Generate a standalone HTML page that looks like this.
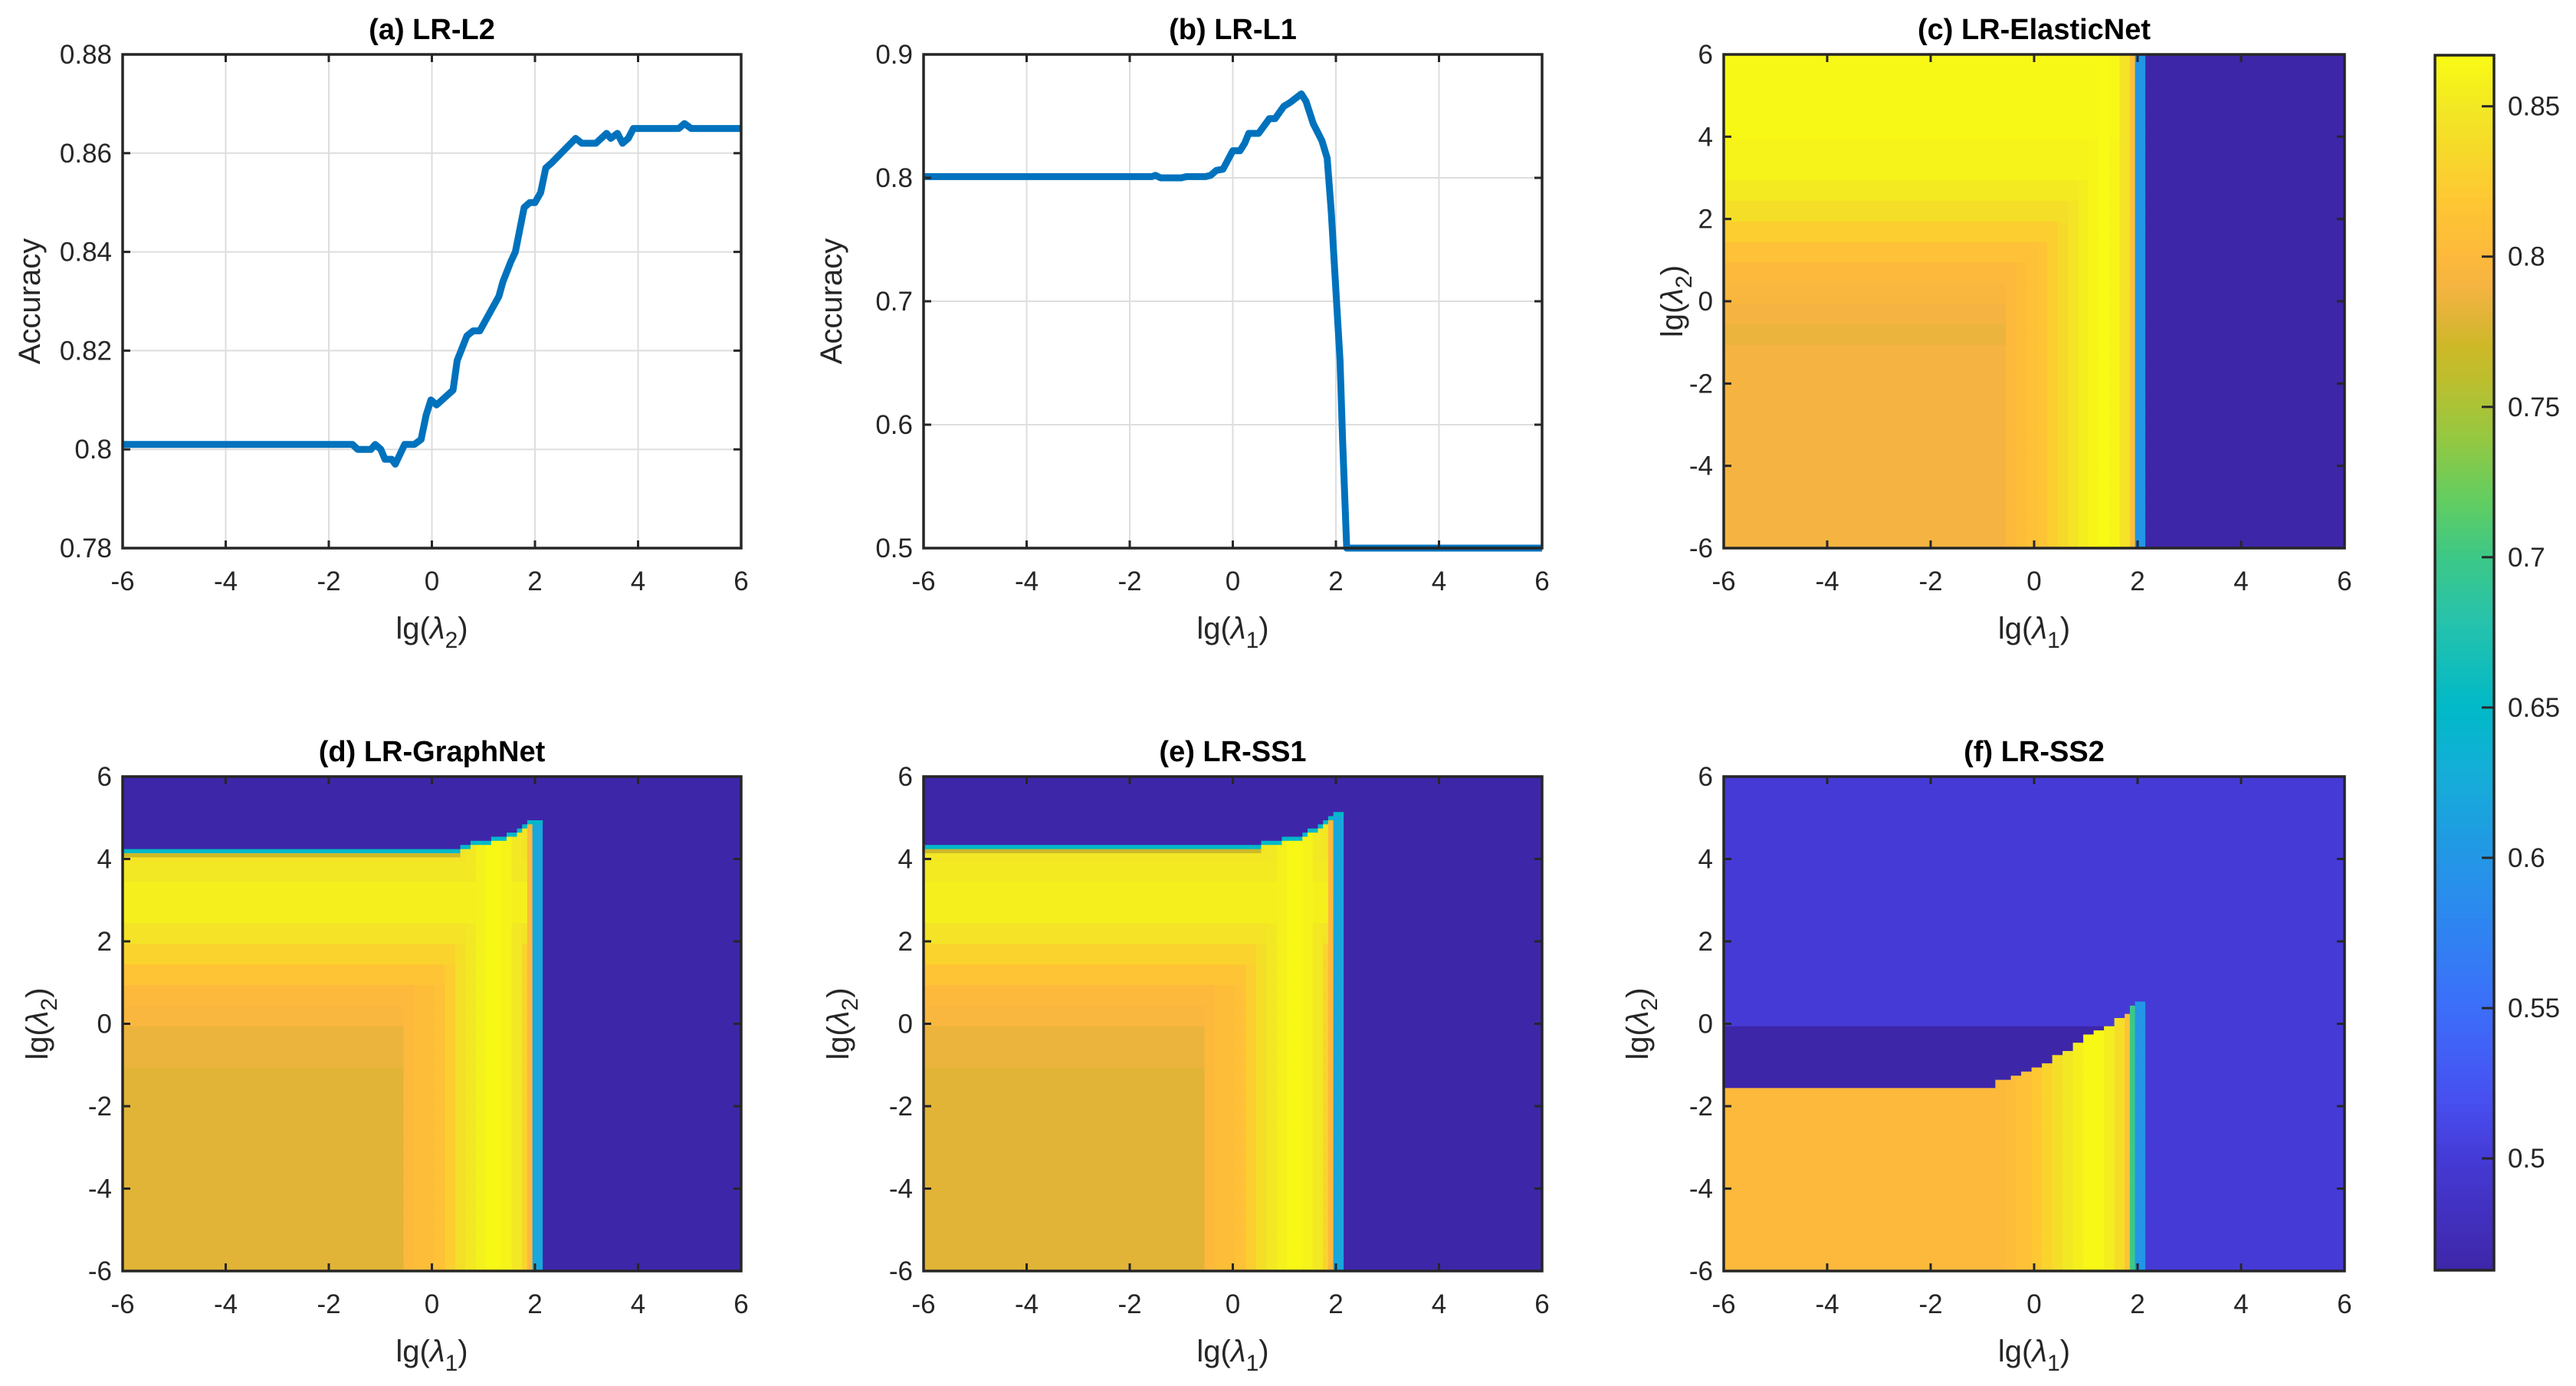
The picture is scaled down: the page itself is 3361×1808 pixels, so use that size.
<!DOCTYPE html>
<html><head><meta charset="utf-8"><style>
html,body{margin:0;padding:0;background:#fff;}
svg{display:block;font-family:"Liberation Sans",Arial,sans-serif;}
.tk{font-size:35px;fill:#262626;}
.tt{font-size:38px;font-weight:bold;fill:#000;}
.al{font-size:40px;fill:#262626;}
</style></head><body>
<svg id="fig" width="3361" height="1808" viewBox="0 0 3361 1808" xmlns="http://www.w3.org/2000/svg">
<rect width="3361" height="1808" fill="#fff"/>
</svg>
<script>
// ===== (a) LR-L2 line data =====
const aX=[-6,-1.54,-1.44,-1.18,-1.1,-0.99,-0.91,-0.78,-0.71,-0.53,-0.34,-0.21,-0.11,-0.02,0.09,0.41,0.49,0.68,0.8,0.93,1.3,1.38,1.53,1.62,1.79,1.9,2.0,2.11,2.21,2.32,2.79,2.91,3.18,3.39,3.47,3.6,3.7,3.81,3.91,4.79,4.9,5.03,6];
const aY=[0.801,0.801,0.800,0.800,0.801,0.800,0.798,0.798,0.797,0.801,0.801,0.802,0.807,0.810,0.809,0.812,0.818,0.823,0.824,0.824,0.831,0.834,0.838,0.840,0.849,0.850,0.850,0.852,0.857,0.858,0.863,0.862,0.862,0.864,0.863,0.864,0.862,0.863,0.865,0.865,0.866,0.865,0.865];
const aYTicks=[0.78,0.8,0.82,0.84,0.86,0.88];
const aYLabels=["0.78","0.8","0.82","0.84","0.86","0.88"];
// ===== (b) LR-L1 line data =====
const bX=[-6,-1.57,-1.5,-1.4,-1.0,-0.9,-0.53,-0.43,-0.32,-0.19,0.0,0.14,0.23,0.31,0.5,0.71,0.82,0.99,1.11,1.33,1.42,1.56,1.73,1.83,1.91,1.99,2.08,2.13,2.21,6];
const bY=[0.801,0.801,0.802,0.800,0.800,0.801,0.801,0.802,0.806,0.807,0.822,0.822,0.828,0.836,0.836,0.848,0.848,0.858,0.861,0.868,0.862,0.844,0.830,0.816,0.773,0.716,0.652,0.588,0.5,0.5];
const bYTicks=[0.5,0.6,0.7,0.8,0.9];
const bYLabels=["0.5","0.6","0.7","0.8","0.9"];
const lamTicks=[-6,-4,-2,0,2,4,6];
const lamLabels=["-6","-4","-2","0","2","4","6"];
// ===== colormap (value -> colour) =====
const cmapVals=[0.4628,0.50,0.52,0.55,0.58,0.60,0.63,0.65,0.68,0.70,0.72,0.74,0.76,0.77,0.78,0.79,0.80,0.82,0.84,0.85,0.867];
const cmapCols=[[62,38,168],[69,58,214],[71,80,240],[60,110,250],[45,135,240],[35,150,230],[20,175,215],[0,185,200],[40,195,170],[60,200,135],[100,205,95],[150,200,65],[190,190,45],[205,185,40],[225,180,55],[245,180,65],[253,185,60],[254,200,50],[245,222,40],[242,232,35],[249,251,20]];
const cbTicks=[0.5,0.55,0.6,0.65,0.7,0.75,0.8,0.85];
const cbLabels=["0.5","0.55","0.6","0.65","0.7","0.75","0.8","0.85"];
// ===== (c) ElasticNet =====
const cColEdges=[-6,-0.5,-0.3,-0.1,0.1,0.3,0.5,0.7,0.9,1.1,1.3,1.5,1.7,1.85,1.95,2.0,2.12,6];
const cColVals=[0,0.80,0.805,0.81,0.815,0.825,0.835,0.845,0.855,0.862,0.866,0.862,0.845,0.81,0.70,0.60,0.4628];
const cRowEdges=[-6,-1,-0.5,0,0.5,1,1.5,2,2.5,3,4,6.1];
const cRowVals=[0.79,0.785,0.79,0.795,0.80,0.81,0.825,0.84,0.852,0.86,0.864];
const cCut=1.7;
// ===== (d) GraphNet =====
const dColEdges=[-6,-0.5,-0.3,0.1,0.3,0.5,0.7,0.9,1.1,1.4,1.6,1.75,1.85,1.95,2.0,2.12,6];
const dColVals=[0,0.80,0.805,0.81,0.825,0.84,0.85,0.858,0.864,0.86,0.85,0.83,0.80,0.70,0.62,0.4628];
const dRowEdges=[-6,-1,0,0.5,1,1.5,2,2.5,3.5,4,6.1];
const dRowVals=[0.78,0.785,0.795,0.80,0.815,0.83,0.845,0.857,0.85,0.845];
const dCut=1.85;
const dTopEdges=[-6,0.6,0.8,1.0,1.2,1.4,1.5,1.6,1.7,1.8,1.9,2.0,2.12];
const dTopY=[4.2,4.3,4.35,4.4,4.45,4.5,4.55,4.6,4.7,4.8,4.85,4.9];
// ===== (e) SS1 =====
const eColEdges=[-6,-0.5,-0.3,0.1,0.3,0.5,0.7,0.9,1.1,1.4,1.6,1.75,1.85,1.95,2.0,2.12,6];
const eColVals=[0,0.80,0.805,0.81,0.825,0.84,0.85,0.858,0.864,0.86,0.85,0.83,0.80,0.70,0.62,0.4628];
const eRowEdges=[-6,-1,0,0.5,1,1.5,2,2.5,3.5,4,6.1];
const eRowVals=[0.78,0.785,0.795,0.80,0.815,0.83,0.845,0.857,0.852,0.848];
const eCut=1.85;
const eTopEdges=[-6,0.6,0.8,1.0,1.2,1.4,1.5,1.6,1.7,1.8,1.9,2.0,2.12];
const eTopY=[4.3,4.35,4.4,4.45,4.5,4.6,4.65,4.7,4.8,4.9,5.0,5.05];
// ===== (f) SS2 =====
const fColEdges=[-6,-0.5,-0.3,0,0.2,0.4,0.6,0.8,1.0,1.4,1.6,1.75,1.9,2.0,2.12,6];
const fColVals=[0.80,0.805,0.81,0.82,0.83,0.84,0.85,0.857,0.864,0.855,0.84,0.815,0.70,0.60,0.50];
const fBndEdges=[-6,-0.7,-0.4,-0.2,0,0.2,0.4,0.6,0.8,1.0,1.2,1.4,1.6,1.8,1.9,2.0,2.12];
const fBndY=[-1.5,-1.35,-1.25,-1.1,-1.0,-0.9,-0.75,-0.6,-0.4,-0.25,-0.1,0.0,0.15,0.3,0.5,0.6];
const fLow=0.4628, fHigh=0.50, fRight=2.12;

const NS="http://www.w3.org/2000/svg";
const fig=document.getElementById('fig');
function mk(tag,attrs,parent){const e=document.createElementNS(NS,tag);for(const k in attrs)e.setAttribute(k,attrs[k]);(parent||fig).appendChild(e);return e;}
function txt(s,x,y,cls,anchor,name,parent){const t=mk('text',{x:x,y:y,class:cls,'text-anchor':anchor||'middle'},parent);t.textContent=s;return t;}

function cmap(v){
  if(v<=cmapVals[0])return cmapCols[0];
  for(let i=1;i<cmapVals.length;i++){if(v<=cmapVals[i]){const t=(v-cmapVals[i-1])/(cmapVals[i]-cmapVals[i-1]);const a=cmapCols[i-1],b=cmapCols[i];return [0,1,2].map(k=>Math.round(a[k]+(b[k]-a[k])*t));}}
  return cmapCols[cmapCols.length-1];
}
function rgb(c){return 'rgb('+c[0]+','+c[1]+','+c[2]+')';}
function band(edges,vals,v){for(let i=0;i<vals.length;i++){if(v>=edges[i]-1e-9&&v<edges[i+1]-1e-9)return vals[i];}return vals[vals.length-1];}

const cols=[[160,967],[1205,2012],[2249,3059]];
const rows=[[71,715],[1013,1658]];
function axes(ci,ri,xmin,xmax,ymin,ymax){
  const [L,R]=cols[ci],[T,B]=rows[ri];
  return {L,R,T,B,sx:v=>L+(v-xmin)/(xmax-xmin)*(R-L),sy:v=>B-(v-ymin)/(ymax-ymin)*(B-T)};
}
function frame(ax,name,title,xlab,ylab,yT,yL,grid,ylabX){
  const g=mk('g',{});
  if(grid){
    lamTicks.forEach(v=>{const l=mk('line',{x1:ax.sx(v),x2:ax.sx(v),y1:ax.T,y2:ax.B,stroke:'#dedede','stroke-width':2},g);});
    yT.forEach(v=>{const l=mk('line',{x1:ax.L,x2:ax.R,y1:ax.sy(v),y2:ax.sy(v),stroke:'#dedede','stroke-width':2},g);});
  }
  return g;
}
function decorate(ax,g,name,title,xlab,ylab,yT,yL,ylabX){
  lamTicks.forEach((v,i)=>{
    const x=ax.sx(v);
    const t1=mk('line',{x1:x,x2:x,y1:ax.B,y2:ax.B-10,stroke:'#262626','stroke-width':3},g);
    const t2=mk('line',{x1:x,x2:x,y1:ax.T,y2:ax.T+10,stroke:'#262626','stroke-width':3},g);
    txt(lamLabels[i],x,ax.B+55,'tk','middle','x-tick-label',g);
  });
  yT.forEach((v,i)=>{
    const y=ax.sy(v);
    const t1=mk('line',{x1:ax.L,x2:ax.L+10,y1:y,y2:y,stroke:'#262626','stroke-width':3},g);
    const t2=mk('line',{x1:ax.R,x2:ax.R-10,y1:y,y2:y,stroke:'#262626','stroke-width':3},g);
    txt(yL[i],ax.L-14,y+12,'tk','end','y-tick-label',g);
  });
  const box=mk('rect',{x:ax.L,y:ax.T,width:ax.R-ax.L,height:ax.B-ax.T,fill:'none',stroke:'#262626','stroke-width':3.5},g);
  
  txt(title,(ax.L+ax.R)/2,ax.T-20,'tt','middle','chart-title',g);
  // x label
  const xl=mk('text',{x:(ax.L+ax.R)/2,y:ax.B+118,class:'al','text-anchor':'middle'},g);
  
  xl.innerHTML=xlab;
  const yl=mk('text',{x:0,y:0,class:'al','text-anchor':'middle',transform:'translate('+ylabX+','+((ax.T+ax.B)/2)+') rotate(-90)'},g);
  
  yl.innerHTML=ylab;
}
const L1='lg(<tspan font-style="italic">λ</tspan><tspan dy="12" font-size="30">1</tspan><tspan dy="-12">)</tspan>';
const L2='lg(<tspan font-style="italic">λ</tspan><tspan dy="12" font-size="30">2</tspan><tspan dy="-12">)</tspan>';

function linePlot(ci,ri,xs,ys,yT,yL,name,title,xlab){
  const ax=axes(ci,ri,-6,6,yT[0],yT[yT.length-1]);
  const g=frame(ax,name,title,xlab,'Accuracy',yT,yL,true);
  const d=xs.map((x,i)=>(i?'L':'M')+ax.sx(x).toFixed(1)+','+ax.sy(ys[i]).toFixed(1)).join(' ');
  const p=mk('path',{d:d,fill:'none',stroke:'#0072BD','stroke-width':9,'stroke-linejoin':'round'},g);
  
  decorate(ax,g,name,title,xlab,'Accuracy',yT,yL,ci==0?52:1098);
}
linePlot(0,0,aX,aY,aYTicks,aYLabels,'plot-lr-l2','(a) LR-L2',L2);
linePlot(1,0,bX,bY,bYTicks,bYLabels,'plot-lr-l1','(b) LR-L1',L1);

function heat(ci,ri,name,title,valFn,ylabX){
  const ax=axes(ci,ri,-6,6,-6,6);
  const g=mk('g',{});
  const cid='clip'+ci+ri;
  const cp=mk('clipPath',{id:cid},g);mk('rect',{x:ax.L,y:ax.T,width:ax.R-ax.L,height:ax.B-ax.T},cp);
  const hg=mk('g',{'clip-path':'url(#'+cid+')'},g);
  
  for(let j=0;j<=120;j++){
    const y=Math.round((-6+j*0.1)*100)/100;
    let runStart=null,runCol=null;
    for(let i=0;i<=121;i++){
      let col=null;
      if(i<=120){const x=Math.round((-6+i*0.1)*100)/100;col=rgb(cmap(valFn(x,y)));}
      if(col!==runCol){
        if(runCol!==null){
          const x0=ax.sx(-6+runStart*0.1-0.05),x1=ax.sx(-6+(i-1)*0.1+0.05);
          const y0=ax.sy(y+0.05),y1=ax.sy(y-0.05);
          const r=mk('rect',{x:x0.toFixed(1),y:(y0-0.5).toFixed(1),width:(x1-x0+0.6).toFixed(1),height:(y1-y0+1).toFixed(1),fill:runCol},hg);
          
          
        }
        runStart=i;runCol=col;
      }
    }
  }
  decorate(ax,g,name,title,L1,L2,lamTicks,lamLabels,ylabX);
}
function baseVal(colE,colV,rowE,rowV,cut,x,y){
  const c=band(colE,colV,x);
  if(x>=cut-1e-9)return c;
  return Math.max(c,band(rowE,rowV,y));
}
heat(2,0,'heatmap-lr-elasticnet','(c) LR-ElasticNet',(x,y)=>baseVal(cColEdges,cColVals,cRowEdges,cRowVals,cCut,x,y),2195);
function topVal(colE,colV,rowE,rowV,cut,tE,tY,x,y){
  if(x<tE[tE.length-1]-1e-9){
    const ty=band(tE,tY,x);
    if(y>=ty+0.1-1e-9)return 0.4628;
    if(y>=ty-1e-9)return 0.65;
    if(y>=ty-0.1-1e-9&&x<0.6)return 0.77;
  }
  return baseVal(colE,colV,rowE,rowV,cut,x,y);
}
heat(0,1,'heatmap-lr-graphnet','(d) LR-GraphNet',(x,y)=>topVal(dColEdges,dColVals,dRowEdges,dRowVals,dCut,dTopEdges,dTopY,x,y),62);
heat(1,1,'heatmap-lr-ss1','(e) LR-SS1',(x,y)=>topVal(eColEdges,eColVals,eRowEdges,eRowVals,eCut,eTopEdges,eTopY,x,y),1107);
heat(2,1,'heatmap-lr-ss2','(f) LR-SS2',(x,y)=>{
  if(x>=fRight-1e-9)return fHigh;
  const by=band(fBndEdges,fBndY,x);
  if(y<by-1e-9)return band(fColEdges,fColVals,x);
  return y<0?fLow:fHigh;
},2150);

// ===== colorbar =====
(function(){
  const L=3177,R=3254,T=72,B=1657,vmin=0.4628,vmax=0.867;
  const sy=v=>B-(v-vmin)/(vmax-vmin)*(B-T);
  const g=mk('g',{});
  const n=300;
  for(let k=0;k<n;k++){
    const v0=vmin+(vmax-vmin)*k/n,v1=vmin+(vmax-vmin)*(k+1)/n;
    const r=mk('rect',{x:L,y:sy(v1)-0.5,width:R-L,height:sy(v0)-sy(v1)+1,fill:rgb(cmap((v0+v1)/2))},g);
    
    
  }
  const bx=mk('rect',{x:L,y:T,width:R-L,height:B-T,fill:'none',stroke:'#262626','stroke-width':3.5},g);
  
  cbTicks.forEach((v,i)=>{
    const y=sy(v);
    const t=mk('line',{x1:R-16,x2:R,y1:y,y2:y,stroke:'#262626','stroke-width':3},g);
    
    txt(cbLabels[i],R+18,y+12,'tk','start','colorbar-tick-label',g);
  });
})();
</script>
</body></html>
